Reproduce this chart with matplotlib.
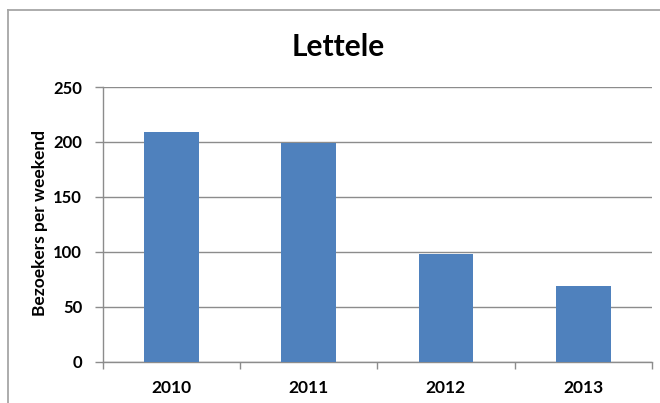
import matplotlib
matplotlib.use("Agg")
import matplotlib.pyplot as plt
from matplotlib.lines import Line2D

years = ["2010", "2011", "2012", "2013"]
visitors = [209, 199, 98, 69]
yticks = [0, 50, 100, 150, 200, 250]
title = "Lettele"
ylabel = "Bezoekers per weekend"

plt.rcParams['font.family'] = ['Lato', 'DejaVu Sans']

fig = plt.figure(figsize=(6.6, 4.03), dpi=100)
ax = fig.add_axes([0.1561, 0.1025, 0.8313, 0.6816])

x = list(range(len(years)))
ax.bar(x, visitors, width=0.4, color="#4F81BD", zorder=3)

ax.set_xlim(-0.5, len(years) - 0.5)
ax.set_ylim(0, 250)
ax.set_yticks(yticks)
ax.set_yticklabels([str(v) for v in yticks])
ax.set_xticks(x)
ax.set_xticklabels(years)
ax.set_xticks([i - 0.5 for i in range(len(years) + 1)], minor=True)

grid_c = "#8C8C8C"
ax.yaxis.grid(True, color=grid_c, linewidth=1.0, zorder=0)
ax.set_axisbelow(True)
for s in ["top", "right"]:
    ax.spines[s].set_visible(False)
for s in ["left", "bottom"]:
    ax.spines[s].set_color(grid_c)
    ax.spines[s].set_linewidth(1.0)

ax.tick_params(axis="x", which="major", length=0, pad=13, labelsize=12.5, colors="black")
ax.tick_params(axis="x", which="minor", length=5, width=1.0, color=grid_c, direction="out")
ax.tick_params(axis="y", which="major", length=6, width=1.0, color=grid_c, pad=9, labelsize=12, labelcolor="black")
for lbl in ax.get_xticklabels() + ax.get_yticklabels():
    lbl.set_fontweight("bold")

fig.text(40 / 660, 1 - 223.5 / 403, ylabel, rotation=90, ha="center", va="center",
         fontsize=12.5, fontweight="bold")
fig.text(338 / 660, 1 - 55.7 / 403, title, ha="center", va="baseline", fontsize=21.5, fontweight="bold")

# outer chart frame
fx = 7.5 / 660
fy = 1 - 9.5 / 403
fig.add_artist(Line2D([fx, fx], [0, fy], transform=fig.transFigure, color="#A6A6A6", linewidth=1.3))
fig.add_artist(Line2D([fx, 1], [fy, fy], transform=fig.transFigure, color="#A6A6A6", linewidth=1.3))

fig.savefig("out.png", dpi=100)
